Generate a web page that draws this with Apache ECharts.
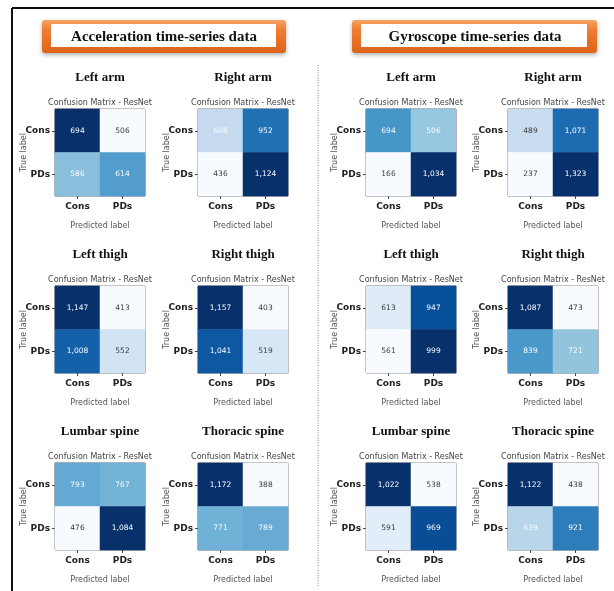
<!DOCTYPE html>
<html>
<head>
<meta charset="utf-8">
<script src="https://cdn.jsdelivr.net/npm/echarts@6/dist/echarts.min.js"></script>
<style>
    html, body { margin: 0; padding: 0; background: #fff; }
    #main { width: 614px; height: 591px; }
</style>
</head>
<body>
<div id="main"></div>
<script>
var classLabels = ['Cons', 'PDs'];
var panelNames = ['Left arm', 'Right arm', 'Left thigh', 'Right thigh', 'Lumbar spine', 'Thoracic spine'];
var groupTitles = ['Acceleration time-series data', 'Gyroscope time-series data'];

// rows = true label (Cons, PDs), cols = predicted label (Cons, PDs)
var accLeftArm = [[694, 506], [586, 614]];
var accRightArm = [[608, 952], [436, 1124]];
var accLeftThigh = [[1147, 413], [1008, 552]];
var accRightThigh = [[1157, 403], [1041, 519]];
var accLumbar = [[793, 767], [476, 1084]];
var accThoracic = [[1172, 388], [771, 789]];

var gyroLeftArm = [[694, 506], [166, 1034]];
var gyroRightArm = [[489, 1071], [237, 1323]];
var gyroLeftThigh = [[613, 947], [561, 999]];
var gyroRightThigh = [[1087, 473], [839, 721]];
var gyroLumbar = [[1022, 538], [591, 969]];
var gyroThoracic = [[1122, 438], [639, 921]];

var accMatrices = [accLeftArm, accRightArm, accLeftThigh, accRightThigh, accLumbar, accThoracic];
var gyroMatrices = [gyroLeftArm, gyroRightArm, gyroLeftThigh, gyroRightThigh, gyroLumbar, gyroThoracic];

// matplotlib "Blues"
var blues = ['#f7fbff', '#deebf7', '#c6dbef', '#9ecae1', '#6baed6', '#4292c6', '#2171b5', '#08519c', '#08306b'];

var colLeft = [55, 198, 366, 508];
var rowTop = [109, 286, 463];
var boxW = 90, boxH = 87;
var FONT = 'DejaVu Sans';

var chart = echarts.init(document.getElementById('main'));

var grids = [], xAxes = [], yAxes = [], series = [], visualMaps = [], graphics = [];

// frame + divider
graphics.push({type: 'line', shape: {x1: 12, y1: 8, x2: 614, y2: 8}, style: {stroke: '#111', lineWidth: 2}});
graphics.push({type: 'line', shape: {x1: 12, y1: 8, x2: 12, y2: 591}, style: {stroke: '#111', lineWidth: 2}});
graphics.push({type: 'line', shape: {x1: 318, y1: 65, x2: 318, y2: 587}, style: {stroke: '#888', lineWidth: 1, lineDash: [1, 1.5]}});

// orange header boxes
var headerBoxes = [
    {x: 42, w: 244, cx: 164},
    {x: 352, w: 245, cx: 475}
];
headerBoxes.forEach(function (b, g) {
    graphics.push({
        type: 'rect',
        shape: {x: b.x, y: 20, width: b.w, height: 33, r: 3},
        style: {
            fill: new echarts.graphic.LinearGradient(0, 0, 0, 1, [
                {offset: 0, color: '#f5a263'},
                {offset: 0.3, color: '#ee7d33'},
                {offset: 1, color: '#dd6418'}
            ]),
            shadowBlur: 4, shadowColor: 'rgba(0,0,0,0.3)', shadowOffsetY: 2
        }
    });
    graphics.push({
        type: 'rect',
        shape: {x: b.x + 9, y: 24, width: b.w - 19, height: 23},
        style: {fill: '#fff'}
    });
    graphics.push({
        type: 'text', x: b.cx, y: 37,
        style: {
            text: groupTitles[g], textAlign: 'center', textVerticalAlign: 'middle',
            fontFamily: 'Liberation Serif', fontWeight: 'bold', fontSize: 15, fill: '#111'
        }
    });
});

function fmt(v) {
    return v.toLocaleString('en-US');
}

[accMatrices, gyroMatrices].forEach(function (mats, g) {
    mats.forEach(function (m, k) {
        var n = grids.length;
        var col = g * 2 + (k % 2);
        var row = Math.floor(k / 2);
        var left = colLeft[col], top = rowTop[row];
        var cx = left + boxW / 2;

        var flat = [m[0][0], m[0][1], m[1][0], m[1][1]];
        var mn = Math.min.apply(null, flat), mx = Math.max.apply(null, flat);

        grids.push({
            left: left, top: top, width: boxW, height: boxH,
            show: true, borderColor: '#666', borderWidth: 1, backgroundColor: 'transparent'
        });

        xAxes.push({
            gridIndex: n, type: 'category', data: classLabels, position: 'bottom',
            axisLine: {show: false},
            axisTick: {show: true, alignWithLabel: true, length: 3, lineStyle: {color: '#444'}},
            axisLabel: {fontFamily: FONT, fontWeight: 'bold', fontSize: 9, color: '#222', margin: 6},
            splitLine: {show: false},
            name: 'Predicted label', nameLocation: 'middle', nameGap: 26, nameMoveOverlap: false,
            nameTextStyle: {fontFamily: FONT, fontSize: 8, color: '#555'}
        });
        yAxes.push({
            gridIndex: n, type: 'category', data: classLabels, inverse: true,
            axisLine: {show: false},
            axisTick: {show: true, alignWithLabel: true, length: 3, lineStyle: {color: '#444'}},
            axisLabel: {fontFamily: FONT, fontWeight: 'bold', fontSize: 9, color: '#222', margin: 5},
            splitLine: {show: false},
            name: 'True label', nameLocation: 'middle', nameRotate: 90, nameGap: 27, nameMoveOverlap: false,
            nameTextStyle: {fontFamily: FONT, fontSize: 8, color: '#555'}
        });

        var data = [];
        for (var i = 0; i < 2; i++) {
            for (var j = 0; j < 2; j++) {
                var v = m[i][j];
                var t = (v - mn) / (mx - mn);
                data.push({value: [j, i, v], label: {color: t > 0.24 ? '#f7fbff' : '#3a3a3a'}});
            }
        }
        series.push({
            type: 'heatmap', xAxisIndex: n, yAxisIndex: n, data: data,
            label: {
                show: true, fontFamily: FONT, fontSize: 7.5,
                formatter: function (p) { return fmt(p.value[2]); }
            },
            emphasis: {disabled: true}
        });
        visualMaps.push({
            type: 'continuous', show: false, seriesIndex: n, dimension: 2,
            min: mn, max: mx, inRange: {color: blues}
        });

        // panel title + subtitle
        graphics.push({
            type: 'text', x: cx, y: top - 31,
            style: {
                text: panelNames[k], textAlign: 'center', textVerticalAlign: 'middle',
                fontFamily: 'Liberation Serif', fontWeight: 'bold', fontSize: 13, fill: '#111'
            }
        });
        graphics.push({
            type: 'text', x: cx, y: top - 6,
            style: {
                text: 'Confusion Matrix - ResNet', textAlign: 'center', textVerticalAlign: 'middle',
                fontFamily: FONT, fontSize: 8, fill: '#444'
            }
        });
    });
});

var option = {
    backgroundColor: '#fff',
    animation: false,
    grid: grids,
    xAxis: xAxes,
    yAxis: yAxes,
    visualMap: visualMaps,
    series: series,
    graphic: graphics
};

chart.setOption(option);
</script>
</body>
</html>
